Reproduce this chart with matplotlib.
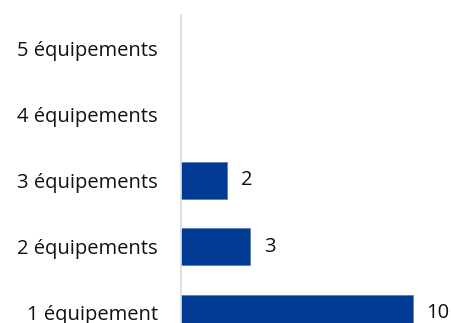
import matplotlib.pyplot as plt

categories = ['1 équipement', '2 équipements', '3 équipements', '4 équipements', '5 équipements']
values = [10, 3, 2, 0, 0]
labels = ['10', '3', '2', '', '']

plt.rcParams['font.family'] = ['Open Sans', 'DejaVu Sans']

fig = plt.figure(figsize=(4.51, 3.23), dpi=100)
# axes run past the bottom edge so the last bar is cut like the original
ax = fig.add_axes([181 / 451, 1 - 346 / 323, 259 / 451, 331 / 323])

ypos = range(len(categories))
ax.barh(ypos, values, height=0.55, color='#013A93',
        edgecolor=['#5E7FBF' if v else 'none' for v in values], linewidth=0.6)

for y, v, lab in zip(ypos, values, labels):
    if lab:
        ax.annotate(lab, (v, y), xytext=(9.5, 0), textcoords='offset points',
                    va='center', ha='left', fontsize=14.5, color='#111111')

ax.set_ylim(-0.5, 4.5)
ax.set_xlim(0, 259 / 23.16)
ax.set_yticks(list(ypos))
ax.set_yticklabels(categories, fontsize=14.5, color='#111111')
ax.tick_params(axis='y', length=0, pad=16.5)
ax.set_xticks([])
for s in ['top', 'right', 'bottom']:
    ax.spines[s].set_visible(False)
ax.spines['left'].set_color('#D9D9D9')
ax.spines['left'].set_linewidth(1.2)

fig.savefig('out.png', dpi=100)
